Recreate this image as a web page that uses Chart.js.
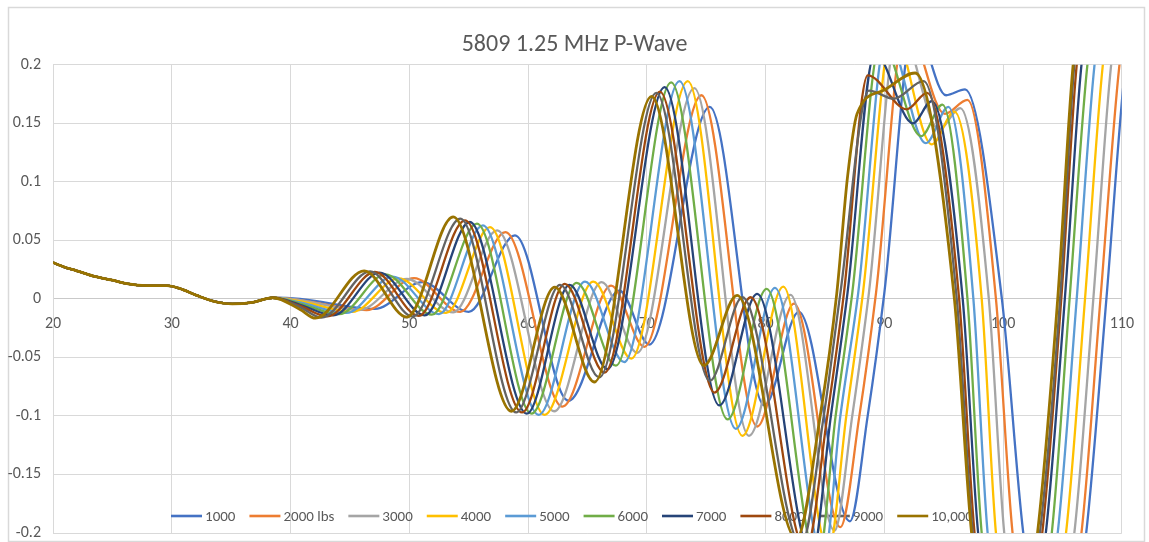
<!DOCTYPE html>
<html lang="en">
<head>
<meta charset="UTF-8">
<title>5809 1.25 MHz P-Wave</title>
<script src="https://cdn.jsdelivr.net/npm/chart.js"></script>
<style>
    html, body { margin: 0; padding: 0; background: #ffffff; }
    .chart-box { position: relative; width: 1149px; height: 542px; }
</style>
</head>
<body>
<div class="chart-box"><canvas id="waveChart"></canvas></div>
<script>
// time axis (x) and amplitude (y) knots for each load, [x, y]
// all loads overlap up to ~38.5
const sharedStart = [[20, 0.031], [21, 0.027], [22, 0.024], [23.4, 0.0195], [25, 0.016], [26.2, 0.013],
    [27.9, 0.0114], [29.6, 0.0114], [30.7, 0.0088], [32.1, 0.003], [33.5, -0.002], [35.1, -0.0043],
    [36.8, -0.003], [38.5, 0.001]];

const load1000 = [[40.8, 0.0], [47.1, -0.0086], [51.1, 0.0143], [55.0, -0.011], [58.9, 0.0543], [63.4, -0.087],
    [67.7, 0.0071], [70.2, -0.039], [75.3, 0.164], [79.9, -0.091], [82.8, -0.011], [87.1, -0.19], [88.6, -0.1],
    [90.0, 0.005], [92.5, 0.235], [95.2, 0.174], [96.8, 0.179], [99.9, 0.0], [101.7, -0.2], [104.4, -0.36],
    [107.0, -0.2], [108.7, 0.0], [110.3, 0.2], [113, 0.36], [115, 0.33]];
const load2000 = [[40.8, -0.001], [46.4, -0.0095], [50.4, 0.0177], [54.3, -0.011], [58.1, 0.0571], [62.9, -0.092],
    [67.0, 0.0114], [69.8, -0.041], [74.6, 0.174], [79.3, -0.109], [82.4, -0.004], [86.3, -0.195], [87.9, -0.1],
    [89.3, 0.005], [91.8, 0.235], [95.1, 0.158], [97.0, 0.170], [99.4, 0.0], [100.8, -0.2], [103.7, -0.36],
    [106.6, -0.2], [108.2, 0.0], [109.8, 0.2], [112.4, 0.36], [114.5, 0.33]];
const load3000 = [[40.8, -0.001], [45.8, -0.0095], [49.8, 0.017], [53.7, -0.0115], [57.4, 0.0585], [62.2, -0.096],
    [66.2, 0.0143], [69.2, -0.046], [74.0, 0.180], [78.6, -0.117], [82.1, 0.0035], [85.8, -0.198], [87.3, -0.1],
    [88.7, 0.005], [91.2, 0.235], [94.6, 0.145], [96.4, 0.163], [98.8, 0.0], [100.1, -0.2], [103.0, -0.36],
    [106.0, -0.2], [107.6, 0.0], [109.1, 0.2], [111.7, 0.36], [114, 0.33]];
const load4000 = [[40.8, -0.002], [45.2, -0.011], [49.1, 0.0175], [53.1, -0.012], [56.8, 0.0614], [61.4, -0.099],
    [65.5, 0.0148], [68.7, -0.051], [73.45, 0.186], [78.05, -0.117], [81.5, 0.0105], [85.3, -0.215], [86.8, -0.1],
    [88.2, 0.005], [90.7, 0.23], [94.0, 0.132], [95.9, 0.160], [98.2, 0.0], [99.4, -0.2], [102.3, -0.36],
    [105.3, -0.2], [106.9, 0.0], [108.4, 0.2], [111, 0.36], [113, 0.33]];
const load5000 = [[40.8, -0.003], [44.7, -0.012], [48.6, 0.019], [52.5, -0.013], [56.2, 0.0628], [60.9, -0.099],
    [64.8, 0.0148], [68.1, -0.054], [72.75, 0.186], [77.5, -0.111], [80.8, 0.0095], [84.9, -0.222], [86.3, -0.1],
    [87.8, 0.005], [90.2, 0.225], [93.5, 0.133], [95.4, 0.164], [97.5, 0.0], [98.7, -0.2], [101.7, -0.36],
    [104.6, -0.2], [106.2, 0.0], [107.7, 0.2], [110.3, 0.36], [112.5, 0.33]];
const load6000 = [[40.8, -0.004], [44.1, -0.013], [48.0, 0.021], [51.9, -0.0135], [55.7, 0.0643], [60.3, -0.098],
    [64.1, 0.0137], [67.4, -0.057], [72.05, 0.185], [76.8, -0.103], [80.1, 0.0086], [84.4, -0.225], [85.9, -0.1],
    [87.3, 0.005], [89.7, 0.22], [93.1, 0.139], [94.9, 0.166], [97.0, 0.0], [98.2, -0.2], [101.2, -0.36],
    [104.1, -0.2], [105.6, 0.0], [107.1, 0.2], [109.7, 0.36], [112, 0.33]];
const load7000 = [[40.8, -0.005], [43.6, -0.014], [47.5, 0.0225], [51.3, -0.014], [55.1, 0.0657], [59.9, -0.098],
    [63.5, 0.012], [66.7, -0.060], [71.5, 0.181], [76.1, -0.091], [79.3, 0.0043], [83.9, -0.22], [85.5, -0.1],
    [86.9, 0.005], [89.2, 0.21], [92.4, 0.150], [94.0, 0.169], [96.6, 0.0], [97.9, -0.2], [100.8, -0.36],
    [103.6, -0.2], [105.2, 0.0], [106.6, 0.2], [109.2, 0.36], [111.5, 0.33]];
const load8000 = [[40.8, -0.006], [43.1, -0.015], [47.1, 0.023], [50.8, -0.0145], [54.7, 0.0671], [59.5, -0.097],
    [63.1, 0.0129], [66.45, -0.063], [71.1, 0.177], [75.7, -0.080], [78.75, 0.0014], [83.4, -0.215], [85.2, -0.1],
    [86.6, 0.005], [88.6, 0.191], [91.9, 0.162], [93.6, 0.176], [96.3, 0.0], [97.6, -0.2], [100.5, -0.36],
    [103.3, -0.2], [104.9, 0.0], [106.2, 0.2], [108.8, 0.36], [111, 0.33]];
const load9000 = [[40.8, -0.007], [42.6, -0.016], [46.7, 0.0235], [50.3, -0.015], [54.3, 0.0686], [59.0, -0.097],
    [62.7, 0.012], [66.0, -0.067], [70.8, 0.176], [75.3, -0.070], [78.05, 0.0014], [83.0, -0.21], [84.9, -0.1],
    [86.3, 0.005], [88.7, 0.178], [90.8, 0.171], [93.3, 0.186], [96.1, 0.0], [97.45, -0.2], [100.3, -0.36],
    [103.1, -0.2], [104.8, 0.0], [106.0, 0.2], [108.6, 0.36], [111, 0.33]];
const load10000 = [[40.8, -0.009], [42.1, -0.0165], [46.2, 0.024], [49.8, -0.0155], [53.7, 0.070], [58.6, -0.096],
    [62.25, 0.010], [65.6, -0.071], [70.4, 0.173], [74.8, -0.057], [77.6, 0.003], [82.6, -0.205], [84.6, -0.1],
    [86.0, 0.005], [86.9, 0.104], [87.7, 0.158], [89.9, 0.178], [92.6, 0.193], [95.9, 0.0], [97.35, -0.2],
    [100.2, -0.36], [102.9, -0.2], [104.6, 0.0], [105.9, 0.2], [108.5, 0.36], [111, 0.33]];

const seriesNames = ['1000', '2000 lbs', '3000', '4000', '5000', '6000', '7000', '8000', '9000', '10,000'];
const seriesData = [load1000, load2000, load3000, load4000, load5000, load6000, load7000, load8000, load9000, load10000];
const seriesColors = ['#4472C4', '#ED7D31', '#A5A5A5', '#FFC000', '#5B9BD5',
    '#70AD47', '#264478', '#9E480E', '#636363', '#997300'];

const xTicks = [20, 110, 10];          // min, max, step
const yTicks = [-0.2, 0.2, 0.05];

const FONT = '"Carlito", "Liberation Sans Narrow", "Open Sans", sans-serif';
const GREY_TEXT = '#595959';
const GRID = '#d9d9d9';

// white page + thin frame around the whole chart
const framePlugin = {
    id: 'frame',
    beforeDraw(chart) {
        const ctx = chart.ctx;
        ctx.save();
        ctx.fillStyle = '#ffffff';
        ctx.fillRect(0, 0, chart.width, chart.height);
        ctx.strokeStyle = GRID;
        ctx.lineWidth = 1.5;
        ctx.strokeRect(8.5, 7.5, chart.width - 13, chart.height - 8);
        ctx.restore();
    }
};

// legend sits inside the plot, under the lines
const insideLegend = {
    id: 'insideLegend',
    beforeDatasetsDraw(chart) {
        const ctx = chart.ctx;
        const items = Chart.defaults.plugins.legend.labels.generateLabels(chart)
            .sort((a, b) => a.datasetIndex - b.datasetIndex);
        ctx.save();
        ctx.font = '15px ' + FONT;
        const sample = 31, gap = 3, spacing = 14;
        const widths = items.map(it => sample + gap + ctx.measureText(it.text).width);
        const total = widths.reduce((a, b) => a + b, 0) + spacing * (items.length - 1);
        let x = 572 - total / 2;
        const y = chart.chartArea.bottom - 17;
        items.forEach((it, i) => {
            ctx.strokeStyle = it.strokeStyle;
            ctx.lineWidth = 2.6;
            ctx.beginPath();
            ctx.moveTo(x, y);
            ctx.lineTo(x + sample, y);
            ctx.stroke();
            ctx.fillStyle = GREY_TEXT;
            ctx.textBaseline = 'middle';
            ctx.textAlign = 'left';
            ctx.fillText(it.text, x + sample + gap, y + 1);
            x += widths[i] + spacing;
        });
        ctx.restore();
    }
};

const datasets = seriesNames.map((name, i) => ({
    label: name,
    data: sharedStart.concat(seriesData[i]),
    borderColor: seriesColors[i],
    backgroundColor: seriesColors[i],
    borderWidth: i === 9 ? 2.8 : 2.3,
    pointRadius: 0,
    cubicInterpolationMode: 'monotone',
    fill: false,
    order: 9 - i
}));

new Chart(document.getElementById('waveChart'), {
    type: 'line',
    data: { datasets },
    options: {
        responsive: true,
        maintainAspectRatio: false,
        animation: false,
        layout: { padding: { left: 0, right: 0, top: 0, bottom: 9 } },
        plugins: {
            legend: { display: false },
            tooltip: { enabled: false },
            title: {
                display: true,
                text: '5809 1.25 MHz P-Wave',
                color: GREY_TEXT,
                font: { family: FONT, size: 24, weight: 'normal' },
                padding: { top: 31, bottom: 5 }
            }
        },
        scales: {
            x: {
                type: 'linear',
                min: xTicks[0],
                max: xTicks[1],
                position: { y: 0 },
                grid: { color: GRID, lineWidth: 1, drawTicks: false },
                border: { color: '#c9c9c9', width: 1 },
                ticks: {
                    stepSize: xTicks[2],
                    autoSkip: false,
                    maxRotation: 0,
                    padding: 15,
                    color: GREY_TEXT,
                    font: { family: FONT, size: 16 }
                }
            },
            y: {
                min: yTicks[0],
                max: yTicks[1],
                grid: { color: GRID, lineWidth: 1, drawTicks: false },
                border: { color: GRID, width: 1 },
                ticks: {
                    stepSize: yTicks[2],
                    padding: 12,
                    color: GREY_TEXT,
                    font: { family: FONT, size: 16 },
                    callback: v => String(Number(v.toFixed(2)))
                },
                afterFit: s => {
                    s.width = 53;
                    s.paddingTop = 0;
                    s.paddingBottom = 0;
                }
            },
            yRight: {
                position: 'right',
                grid: { display: false },
                border: { display: false },
                ticks: { display: false },
                afterFit: s => { s.width = 23; }
            }
        }
    },
    plugins: [framePlugin, insideLegend]
});
</script>
</body>
</html>
